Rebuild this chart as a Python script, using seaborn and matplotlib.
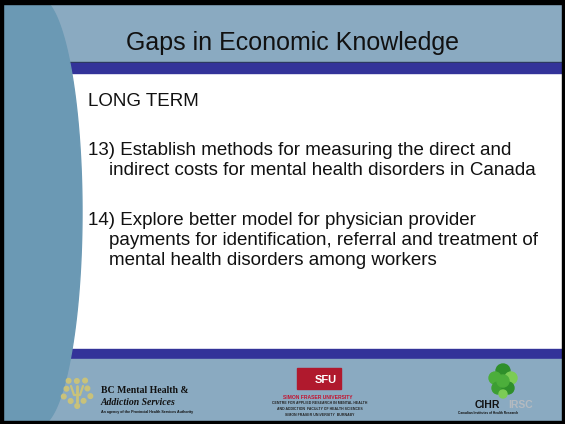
import numpy as np
import seaborn as sns
import matplotlib.pyplot as plt
from matplotlib.patches import Rectangle, Polygon, Circle

sns.set_theme(style="white")
plt.rcParams['font.family'] = ['Liberation Sans', 'DejaVu Sans']

# slide content
title = "Gaps in Economic Knowledge"
heading = "LONG TERM"
item_13 = ["13) Establish methods for measuring the direct and",
           "indirect costs for mental health disorders in Canada"]
item_14 = ["14) Explore better model for physician provider",
           "payments for identification, referral and treatment of",
           "mental health disorders among workers"]
bc_logo = ["BC Mental Health &", "Addiction Services",
           "An agency of the Provincial Health Services Authority"]
sfu_logo = ["SFU", "SIMON FRASER UNIVERSITY",
            "CENTRE FOR APPLIED RESEARCH IN MENTAL HEALTH",
            "AND ADDICTION  FACULTY OF HEALTH SCIENCES",
            "SIMON FRASER UNIVERSITY  BURNABY"]
cihr_logo = ["CIHR", "IRSC", "Canadian Institutes of Health Research"]

band = "#8aaac1"
curve = "#6b99b4"
stripe = "#333399"

fig = plt.figure(figsize=(5.65, 4.24), dpi=100)
ax = fig.add_axes([0, 0, 1, 1])
ax.set_xlim(0, 565)
ax.set_ylim(424, 0)
ax.axis('off')

# background bands
ax.add_patch(Rectangle((0, 0), 565, 424, color="white", zorder=0))
ax.add_patch(Rectangle((0, 0), 565, 62, color=band, zorder=1))
ax.add_patch(Rectangle((0, 61.5), 565, 1.5, color="#2b3a55", zorder=1))
ax.add_patch(Rectangle((0, 63), 565, 10, color=stripe, zorder=1))
ax.add_patch(Rectangle((0, 349), 565, 10, color=stripe, zorder=1))
ax.add_patch(Rectangle((0, 359), 565, 65, color=band, zorder=1))

# curved panel on the left
cy, a, b, cx = 212, 43, 214, 39
t = np.linspace(-np.pi / 2, np.pi / 2, 200)
ex = cx + a * np.cos(t)
ey = cy + b * np.sin(t)
pts = [(0, ey[0])] + list(zip(ex, ey)) + [(0, ey[-1])]
ax.add_patch(Polygon(pts, closed=True, color=curve, zorder=2))

# frame
for r in [(0, 0, 565, 3.5), (0, 421, 565, 3), (0, 0, 3, 424), (562, 0, 3, 424)]:
    ax.add_patch(Rectangle(r[:2], r[2], r[3], color="black", zorder=10))

# text
ax.text(292, 50, title, fontsize=18, ha='center', va='baseline', color="#111111", zorder=5)
ax.text(88, 106, heading, fontsize=13.5, ha='left', va='baseline', color="#111111", zorder=5)
for i, line in enumerate(item_13):
    ax.text(88 if i == 0 else 109, 155 + 20 * i, line, fontsize=13.5,
            ha='left', va='baseline', color="#111111", zorder=5)
for i, line in enumerate(item_14):
    ax.text(88 if i == 0 else 109, 225 + 20 * i, line, fontsize=13.5,
            ha='left', va='baseline', color="#111111", zorder=5)

# BC Mental Health logo
sun = "#c9c27a"
ang = np.linspace(0, 2 * np.pi, 10, endpoint=False) + 0.3
for k, an in enumerate(ang):
    rr = 14 if k % 2 == 0 else 11
    ax.add_patch(Circle((77 + rr * np.cos(an), 392 + rr * np.sin(an)), 2.3, color=sun, zorder=4))
ax.plot([77, 77], [386, 402], color=sun, lw=2, zorder=4)
ax.plot([71, 74, 80, 83], [386, 395, 395, 386], color=sun, lw=1.6, zorder=4)
ax.text(101, 393, bc_logo[0], fontsize=7, family='Liberation Serif', weight='bold',
        ha='left', va='baseline', color="#111111", zorder=5)
ax.text(101, 405, bc_logo[1], fontsize=7, family='Liberation Serif', weight='bold',
        style='italic', ha='left', va='baseline', color="#111111", zorder=5)
ax.text(101, 413, bc_logo[2], fontsize=2.6, weight='bold',
        ha='left', va='baseline', color="#111111", zorder=5)

# SFU logo
ax.add_patch(Rectangle((297, 368), 44, 21, color="#b0192d", zorder=4))
ax.text(326, 383, sfu_logo[0], fontsize=8, weight='bold', color="white",
        ha='center', va='baseline', zorder=5)
ax.text(318, 399, sfu_logo[1], fontsize=3.6, weight='bold', color="#c4122f",
        ha='center', va='baseline', zorder=5)
for j, line in enumerate(sfu_logo[2:]):
    ax.text(320, 404 + 6 * j, line, fontsize=2.5, weight='bold', color="#222222",
            ha='center', va='baseline', zorder=5)

# CIHR logo
greens = ["#2f8f2a", "#4cae3b", "#7ccc55", "#3d9e33"]
leaf = [(503, 371, 7), (495, 378, 6), (511, 378, 6), (498, 388, 6), (508, 388, 6),
        (503, 381, 6), (503, 394, 4)]
for n, (lx, ly, lr) in enumerate(leaf):
    ax.add_patch(Circle((lx, ly), lr, color=greens[n % 4], zorder=4))
ax.text(487, 408, cihr_logo[0], fontsize=7.5, weight='bold', color="#111111",
        ha='center', va='baseline', zorder=5)
ax.text(521, 408, cihr_logo[1], fontsize=7.5, weight='bold', color="#b4bac0",
        ha='center', va='baseline', zorder=5)
ax.text(488, 414, cihr_logo[2], fontsize=2.3, weight='bold', color="#111111",
        ha='center', va='baseline', zorder=5)

fig.savefig("out.png", dpi=100)
